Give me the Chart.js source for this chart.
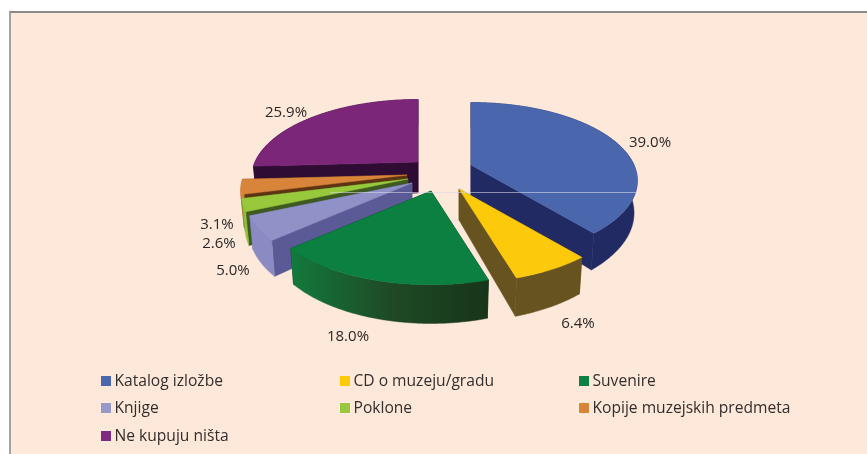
<!DOCTYPE html>
<html>
<head>
<meta charset="utf-8">
<script src="https://cdn.jsdelivr.net/npm/chart.js@4/dist/chart.umd.min.js"></script>
<style>
html,body{margin:0;padding:0;background:#fff;width:867px;height:454px;overflow:hidden}
#panel{position:absolute;left:9px;top:11px;width:858px;height:443px;box-sizing:border-box;background:#fde8da;border-top:2px solid #8a8a8a;border-left:2px solid #a3a3a3}
#c{position:absolute;left:0;top:0}
#glare{position:absolute;left:330px;top:192px;width:307px;height:1px;background:rgba(215,215,230,.6)}
.lg{position:absolute;font:15.6px "Open Sans",sans-serif;color:#332e2e;white-space:nowrap;line-height:20px}
.sw{position:absolute;width:10px;height:10px}
</style>
</head>
<body>
<div id="panel"></div>
<canvas id="c" width="867" height="454"></canvas>
<div id="glare"></div>
<div id="legend"></div>
<script>
// ---- data ----
const categories = ["Katalog izložbe","CD o muzeju/gradu","Suvenire","Knjige","Poklone","Kopije muzejskih predmeta","Ne kupuju ništa"];
const values = [39.0, 6.4, 18.0, 5.0, 2.6, 3.1, 25.9];
// ---- styles ----
const topColors  = ["#4a67ae","#fdc90b","#0b8040","#9091c7","#98c93c","#d9843b","#7b2678"];
const faceColors = ["#222a63","#66531f","#17351a","#5a5a96","#3f5a1f","#5e3312","#2e0c33"];
const rimColors  = ["#222a63","#66531f",["#127a3c","#1f4a25","#17351a"],"#8a8bc2","#8fc03a","#d9843b","#2e0c33"];
const legendSwatch = ["#4a67ae","#fdcb05","#0b8040","#9998cb","#98c93c","#d9843b","#7f2a82"];
// ---- 3D look: explosion of each slice from the pie centre, paint order, label spots ----
const explodeX = [46, 34, 6, -13, -17, -18, -7];
const explodeY = [-12, 12, 14, 6, 2, -2, -15];
const paintOrder = [6, 0, 5, 4, 3, 1, 2];
const labelX = [650, 578, 348, 233, 219, 217, 286];
const labelY = [143, 324, 337, 271, 244, 225, 113];
const tilt = 0.46, perspective = 0.2, depth = 31, bottomShrink = 0.98;
const legendCols = [101, 340, 579], legendRows = [376, 403, 431];

function proj(ax, ay, R, a, d){
  const u = Math.cos(a), v = Math.sin(a), s = 1/(1 - perspective*v);
  return [ax + R*u*s*(d?bottomShrink:1), ay + R*tilt*v*s + (d?depth*s:0)];
}
const pie3d = {
  id:'pie3d',
  beforeDatasetDraw(chart){
    const ctx = chart.ctx, arcs = chart.getDatasetMeta(0).data;
    paintOrder.forEach(i=>{
      const arc = arcs[i], R = arc.outerRadius;
      const ax = arc.x + explodeX[i], ay = arc.y + explodeY[i];
      const pts = [], n = Math.max(4, Math.ceil((arc.endAngle-arc.startAngle)/0.01));
      for(let k=0;k<=n;k++) pts.push(arc.startAngle + (arc.endAngle-arc.startAngle)*k/n);
      const poly = (list, fill) => {
        ctx.beginPath();
        list.forEach((p,j)=> j? ctx.lineTo(p[0],p[1]) : ctx.moveTo(p[0],p[1]));
        ctx.closePath(); ctx.fillStyle = fill; ctx.fill();
        ctx.strokeStyle = fill; ctx.lineWidth = 0.5; ctx.stroke();
      };
      // radial cut faces
      [arc.startAngle, arc.endAngle].forEach(a=>{
        poly([[ax,ay],proj(ax,ay,R,a,false),proj(ax,ay,R,a,true),[ax,ay+depth]], faceColors[i]);
      });
      // outer rim
      const topRim = pts.map(a=>proj(ax,ay,R,a,false));
      const botRim = pts.map(a=>proj(ax,ay,R,a,true)).reverse();
      let rimFill = rimColors[i];
      if(Array.isArray(rimFill)){
        const xs = topRim.map(p=>p[0]);
        const g = ctx.createLinearGradient(Math.min(...xs),0,Math.max(...xs),0);
        rimFill.forEach((c,j)=>g.addColorStop(j/(rimFill.length-1),c));
        rimFill = g;
      }
      poly(topRim.concat(botRim), rimFill);
      // top surface
      poly([[ax,ay]].concat(topRim), topColors[i]);
    });
    // data labels
    ctx.fillStyle = "#2b2728";
    ctx.font = '15px "Open Sans",sans-serif';
    ctx.textAlign = "center"; ctx.textBaseline = "middle";
    values.forEach((v,i)=>ctx.fillText(v.toFixed(1)+"%", labelX[i], labelY[i]));
    return false;
  }
};
new Chart(document.getElementById('c'),{
  type:'pie',
  data:{labels:categories,datasets:[{data:values,backgroundColor:topColors,borderWidth:0}]},
  options:{
    responsive:false,animation:false,
    radius:163,
    layout:{padding:{right:17,bottom:100}},
    plugins:{legend:{display:false},tooltip:{enabled:false}}
  },
  plugins:[pie3d]
});
const lg = document.getElementById('legend');
categories.forEach((name,i)=>{
  const x = legendCols[i%3], y = legendRows[Math.floor(i/3)];
  const sw = document.createElement('div');
  sw.className='sw'; sw.style.left=x+'px'; sw.style.top=y+'px'; sw.style.background=legendSwatch[i];
  const t = document.createElement('div');
  t.className='lg'; t.textContent=name; t.style.left=(x+13.5)+'px'; t.style.top=(y-6)+'px';
  lg.appendChild(sw); lg.appendChild(t);
});
</script>
</body>
</html>
